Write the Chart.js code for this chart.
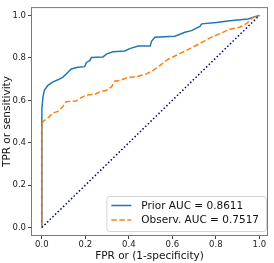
<!DOCTYPE html>
<html>
<head>
<meta charset="utf-8">
<script src="https://cdn.jsdelivr.net/npm/chart.js@4.4.1/dist/chart.umd.min.js"></script>
<style>
  html, body { margin: 0; padding: 0; background: #fff; }
  #roc { display: block; }
</style>
</head>
<body>
<canvas id="roc" width="274" height="263"></canvas>
<script>
// ROC points
const priorFPR = [0, 0, 0.005, 0.012, 0.028, 0.051, 0.074, 0.097, 0.12, 0.135, 0.166, 0.197, 0.205, 0.22, 0.228, 0.281, 0.297, 0.327, 0.381, 0.404, 0.443, 0.498, 0.505, 0.52, 0.612, 0.658, 0.688, 0.727, 0.735, 0.803, 0.865, 0.949, 0.98, 1];
const priorTPR = [0, 0.56, 0.617, 0.648, 0.671, 0.687, 0.697, 0.71, 0.733, 0.748, 0.756, 0.759, 0.779, 0.787, 0.802, 0.805, 0.818, 0.829, 0.833, 0.844, 0.856, 0.856, 0.88, 0.898, 0.903, 0.921, 0.929, 0.949, 0.961, 0.967, 0.976, 0.984, 0.995, 1];

const observFPR = [0, 0, 0.005, 0.028, 0.051, 0.074, 0.097, 0.112, 0.158, 0.174, 0.205, 0.243, 0.266, 0.297, 0.32, 0.335, 0.358, 0.389, 0.443, 0.481, 0.512, 0.542, 0.581, 0.619, 0.665, 0.727, 0.773, 0.819, 0.865, 0.91, 0.942, 0.957, 0.972, 1];
const observTPR = [0, 0.486, 0.501, 0.517, 0.54, 0.548, 0.571, 0.594, 0.597, 0.609, 0.625, 0.628, 0.64, 0.648, 0.663, 0.69, 0.694, 0.705, 0.714, 0.725, 0.741, 0.764, 0.794, 0.813, 0.836, 0.868, 0.895, 0.915, 0.936, 0.945, 0.963, 0.979, 0.991, 1];

const chanceFPR = [0, 1];
const chanceTPR = [0, 1];

const seriesLabels = ['Prior AUC = 0.8611', 'Observ. AUC = 0.7517'];
const tickValues = [0, 0.2, 0.4, 0.6, 0.8, 1.0];

const toPoints = (xs, ys) => xs.map((x, i) => ({ x, y: ys[i] }));

// legend drawn inside the plot, lower right (matplotlib style)
const boxLegend = {
  id: 'boxLegend',
  afterDatasetsDraw(chart) {
    const { ctx, chartArea } = chart;
    const items = chart.data.datasets.filter(d => d.inLegend);
    ctx.save();
    ctx.font = '10.5px "DejaVu Sans"';
    const textW = Math.max(...items.map(d => ctx.measureText(d.label).width));
    const rowH = 14.5;
    const w = 35 + textW + 7;
    const h = items.length * rowH + 6;
    const right = chartArea.right - 2;
    const bottom = chartArea.bottom - 5;
    const left = right - w, top = bottom - h;
    ctx.beginPath();
    ctx.roundRect(left + 0.5, top + 0.5, w, h, 3);
    ctx.fillStyle = 'rgba(255,255,255,0.85)';
    ctx.fill();
    ctx.strokeStyle = '#d4d4d4';
    ctx.lineWidth = 1;
    ctx.stroke();
    items.forEach((d, i) => {
      const cy = top + 9.5 + i * rowH;
      ctx.beginPath();
      ctx.setLineDash(d.borderDash || []);
      ctx.strokeStyle = d.borderColor;
      ctx.lineWidth = d.borderWidth;
      ctx.moveTo(left + 5, cy);
      ctx.lineTo(left + 25, cy);
      ctx.stroke();
      ctx.setLineDash([]);
      ctx.fillStyle = '#111';
      ctx.textBaseline = 'middle';
      ctx.textAlign = 'left';
      ctx.fillText(d.label, left + 35, cy + 0.5);
    });
    ctx.restore();
  }
};

// full frame around the plot area
const frame = {
  id: 'frame',
  afterDraw(chart) {
    const { ctx, chartArea: a } = chart;
    ctx.save();
    ctx.strokeStyle = '#7a7a7a';
    ctx.lineWidth = 1;
    ctx.strokeRect(a.left + 0.5, a.top + 0.5, a.right - a.left - 1, a.bottom - a.top - 1);
    ctx.restore();
  }
};

Chart.defaults.font.family = '"DejaVu Sans"';
Chart.defaults.color = '#222';

new Chart(document.getElementById('roc').getContext('2d'), {
  type: 'line',
  data: {
    datasets: [
      { label: seriesLabels[0], inLegend: true, data: toPoints(priorFPR, priorTPR), borderColor: '#1f77b4', borderWidth: 1.5, pointRadius: 0, tension: 0, order: 2 },
      { label: seriesLabels[1], inLegend: true, data: toPoints(observFPR, observTPR), borderColor: '#ff7f0e', borderWidth: 1.5, borderDash: [5.5, 2.5], pointRadius: 0, tension: 0, order: 1 },
      { label: 'chance', data: toPoints(chanceFPR, chanceTPR), borderColor: '#000080', borderWidth: 1.5, borderDash: [1.5, 2.2], pointRadius: 0, tension: 0, order: 0 }
    ]
  },
  options: {
    responsive: false,
    animation: false,
    layout: { padding: { top: 4, right: 6, left: 0, bottom: 0 } },
    plugins: { legend: { display: false }, tooltip: { enabled: false } },
    scales: {
      x: {
        type: 'linear',
        min: -0.05,
        max: 1.04,
        afterBuildTicks: s => { s.ticks = tickValues.map(v => ({ value: v })); },
        afterFit: s => { s.height = 27; },
        ticks: { font: { size: 8.5 }, padding: 1, maxRotation: 0, callback: v => v.toFixed(1) },
        grid: { drawOnChartArea: false, drawTicks: true, tickLength: 3, color: '#444' },
        border: { display: false },
        title: { display: true, text: 'FPR or (1-specificity)', font: { size: 10.5 }, color: '#111', padding: { top: 1, bottom: 0 } }
      },
      y: {
        type: 'linear',
        min: -0.04,
        max: 1.04,
        afterBuildTicks: s => { s.ticks = tickValues.map(v => ({ value: v })); },
        afterFit: s => { s.width = 31; },
        ticks: { font: { size: 8.5 }, padding: 2, callback: v => v.toFixed(1) },
        grid: { drawOnChartArea: false, drawTicks: true, tickLength: 3, color: '#444' },
        border: { display: false },
        title: { display: true, text: 'TPR or sensitivity', font: { size: 10.5 }, color: '#111', padding: { top: 1, bottom: 0 } }
      }
    }
  },
  plugins: [boxLegend, frame]
});
</script>
</body>
</html>
